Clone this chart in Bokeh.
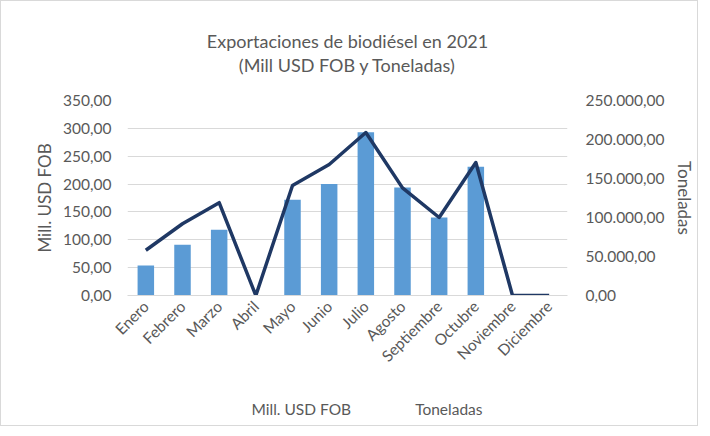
from bokeh.plotting import figure
from bokeh.layouts import column
from bokeh.models import (Range1d, LinearAxis, CustomJSTickFormatter, Legend, LegendItem,
                          ColumnDataSource, FixedTicker, Title)
from bokeh.embed import file_html
from bokeh.resources import INLINE
import math

months = ["Enero", "Febrero", "Marzo", "Abril", "Mayo", "Junio", "Julio",
          "Agosto", "Septiembre", "Octubre", "Noviembre", "Diciembre"]
usd_fob = [54, 91, 118, 0, 172, 200, 293, 194, 140, 231, 0, 0]
toneladas = [58000, 92000, 119000, 0, 141000, 168000, 209000, 138000, 100000, 170500, 0, 0]
left_ticks = [0, 50, 100, 150, 200, 250, 300, 350]
right_ticks = [0, 50000, 100000, 150000, 200000, 250000]
title_lines = ["Exportaciones de biodiésel en 2021", "(Mill USD FOB y Toneladas)"]
legend_labels = ["Mill. USD FOB", "Toneladas"]

FONT = "Lato"
GRAY = "#595959"
BAR = "#5B9BD5"
LINE = "#1F3864"

src = ColumnDataSource(dict(m=months, usd=usd_fob, t=toneladas))

p = figure(x_range=months, y_range=Range1d(0, 350), frame_width=440, frame_height=195,
           output_backend="svg", toolbar_location=None, title=None,
           min_border_left=126, min_border_right=128, min_border_top=99, min_border_bottom=98)
p.extra_y_ranges = {"t": Range1d(0, 250000)}

p.add_layout(Title(text=" ", text_font=FONT, text_font_size="18px", standoff=1), "above")
for txt in reversed(title_lines):
    p.add_layout(Title(text=txt, align="center", text_font=FONT, text_font_size="18px",
                       text_font_style="normal", text_color=GRAY, standoff=0), "above")

p.vbar(x="m", top="usd", width=0.45, source=src, fill_color=BAR, line_color=None)
p.line(x="m", y="t", source=src, y_range_name="t", line_color=LINE, line_width=3.5,
       line_join="round")

fmt = CustomJSTickFormatter(code="""
const parts = tick.toFixed(2).split('.');
parts[0] = parts[0].replace(/\\B(?=(\\d{3})+(?!\\d))/g, '.');
return parts.join(',');
""")

ya = p.yaxis[0]
ya.ticker = FixedTicker(ticks=left_ticks)
ya.formatter = fmt
ya.axis_label = "Mill. USD FOB"

ra = LinearAxis(y_range_name="t", ticker=FixedTicker(ticks=right_ticks), formatter=fmt,
                axis_label="Toneladas")
p.add_layout(ra, "right")

for ax in [ya, ra]:
    ax.axis_line_color = None
    ax.major_tick_line_color = None
    ax.minor_tick_line_color = None
    ax.major_label_text_font = FONT
    ax.major_label_text_font_size = "15.5px"
    ax.major_label_text_color = GRAY
    ax.axis_label_text_font = FONT
    ax.axis_label_text_font_size = "17px"
    ax.axis_label_text_font_style = "normal"
    ax.axis_label_text_color = GRAY
ya.major_label_standoff = 10
ra.major_label_standoff = 12
ra.axis_label_standoff = 6

xa = p.xaxis[0]
xa.axis_line_color = "#D9D9D9"
xa.major_tick_line_color = None
xa.minor_tick_line_color = None
xa.major_tick_out = 0
xa.major_label_orientation = math.pi / 4
xa.major_label_text_font = FONT
xa.major_label_text_font_size = "15.5px"
xa.major_label_text_color = GRAY
xa.major_label_standoff = 8

p.xgrid.grid_line_color = None
p.ygrid.grid_line_color = "#D9D9D9"
p.ygrid.ticker = FixedTicker(ticks=left_ticks)
p.outline_line_color = None

# legend strip below the chart
lf = figure(width=694, height=32, output_backend="svg", toolbar_location=None,
            x_range=Range1d(0, 1), y_range=Range1d(0, 1),
            x_axis_location=None, y_axis_location=None,
            min_border_left=0, min_border_right=0, min_border_top=0, min_border_bottom=0)
lf.xgrid.grid_line_color = None
lf.ygrid.grid_line_color = None
lf.outline_line_color = None
lb = lf.vbar(x=[], top=[], width=0.45, fill_color=BAR, line_color=None)
ll = lf.line(x=[], y=[], line_color=LINE, line_width=3.5)
legend = Legend(items=[LegendItem(label=legend_labels[0], renderers=[lb]),
                       LegendItem(label=legend_labels[1], renderers=[ll])],
                orientation="horizontal", location="center",
                label_text_font=FONT, label_text_font_size="15.5px", label_text_color=GRAY,
                glyph_width=39, glyph_height=12, border_line_color=None,
                background_fill_alpha=0,
                spacing=22, label_standoff=3, margin=0, padding=4)
lf.add_layout(legend, "center")

layout = column(p, lf, spacing=0)
layout.styles = {"border": "1px solid #D9D9D9"}

open("out.html", "w").write(file_html(layout, INLINE))
